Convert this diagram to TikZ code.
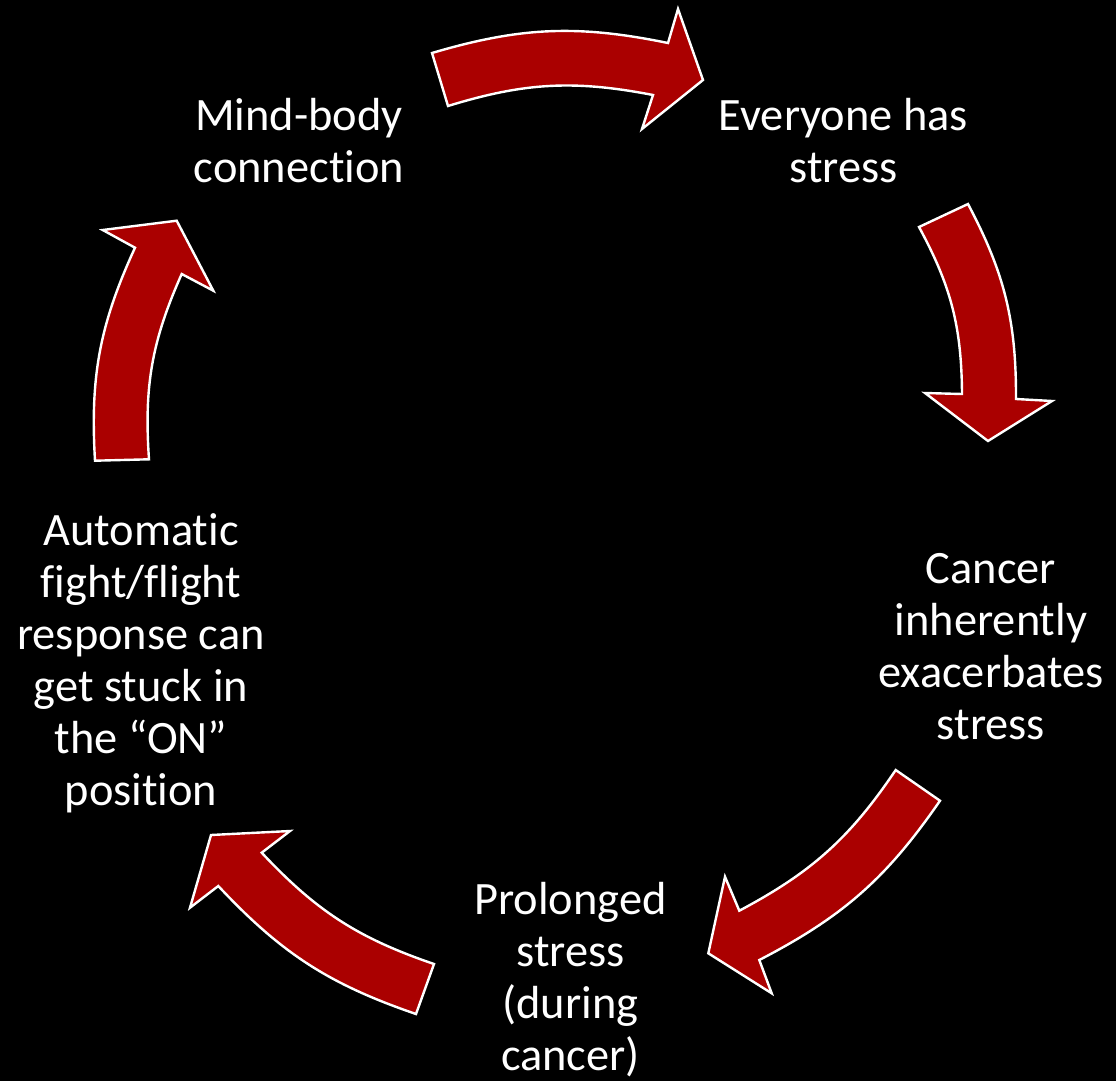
\documentclass[tikz,border=0pt]{standalone}
\usepackage{fontspec}
\setmainfont{Carlito}[RawFeature=-liga]
\definecolor{arrowred}{RGB}{170,0,0}
\begin{document}
\begin{tikzpicture}[x=0.75pt,y=-0.75pt,
  cyc/.style={fill=arrowred, draw=white, line width=1.8pt, line join=miter},
  lbl/.style={text=white, align=center, inner sep=0pt, anchor=north,
    font=\fontsize{34.8pt}{39pt}\selectfont}]
\fill[black] (0,0) rectangle (1116,1081);
\useasboundingbox (0,0) rectangle (1116,1081);

% arrows
\draw[cyc] (432,53) to[bend left=14] (668,43) -- (678,9) -- (703,80) -- (642,129) -- (653,95) to[bend right=14] (448,106) -- cycle;
\draw[cyc] (968,204) to[bend left=14] (1016,399) -- (1052,401) -- (988,441) -- (925,393) -- (962,394) to[bend right=14] (919,227) -- cycle;
\draw[cyc] (940,800.7) to[bend left=14] (759.3,960) -- (771.7,993.3) -- (708.3,953.3) -- (725,876.7) -- (739.3,910.7) to[bend right=14] (895.7,770) -- cycle;
\draw[cyc] (416,1014) to[bend left=14] (218.3,886) -- (190,907.7) -- (211,835) -- (290,831) -- (261.7,852.7) to[bend right=14] (434,964) -- cycle;
\draw[cyc] (95,460.7) to[bend left=14] (135,247.7) -- (102.7,230) -- (176.7,220.7) -- (213.3,290.7) -- (181.7,274) to[bend right=14] (149,459.3) -- cycle;

% labels
\node[lbl] (mind) at (299,94.3) {\strut Mind-body\\\strut connection};
\node[lbl] (every) at (843.5,94.3) {\strut Everyone has\\\strut stress};
\node[lbl] (cancer) at (991,546.6) {\strut Cancer\\\strut inherently\\\strut exacerbates\\\strut stress};
\node[lbl] (prolonged) at (570.5,877.6) {\strut Prolonged\\\strut stress\\\strut (during\\\strut cancer)};
\node[lbl] (auto) at (141,508.6) {\strut Automatic\\\strut fight/flight\\\strut response can\\\strut get stuck in\\\strut the “ON”\\\strut position};
\end{tikzpicture}
\end{document}
